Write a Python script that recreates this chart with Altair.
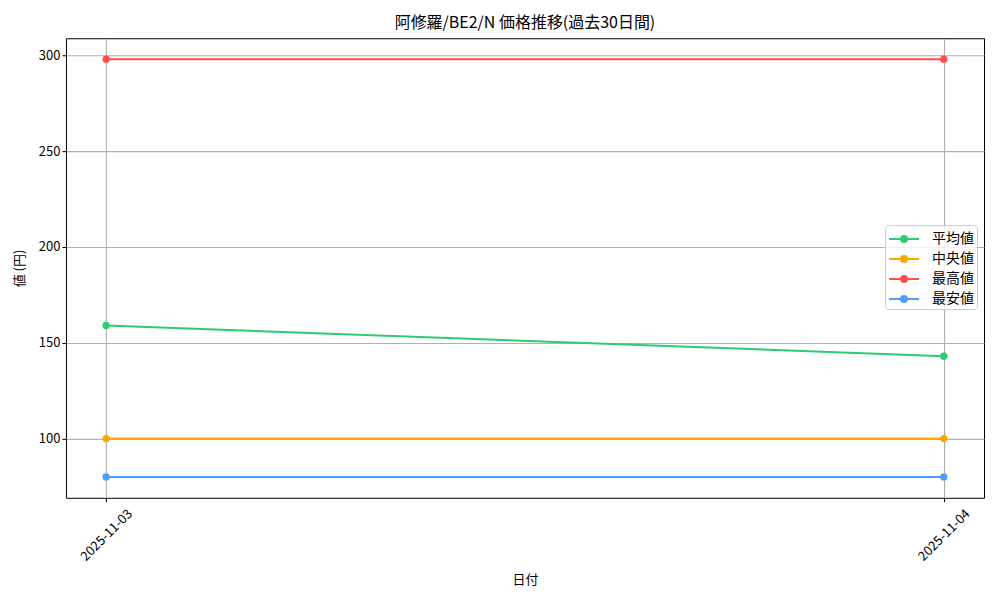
import altair as alt
import pandas as pd

dates = ["2025-11-03", "2025-11-04"]
series = ["平均値", "中央値", "最高値", "最安値"]
avg_values = [159, 143]
median_values = [100, 100]
max_values = [298, 298]
min_values = [80, 80]
colors = ["#2ecc71", "#ffa500", "#ff4d4d", "#4d9fff"]
y_ticks = [100, 150, 200, 250, 300]

rows = []
for name, vals in zip(series, [avg_values, median_values, max_values, min_values]):
    for d, v in zip(dates, vals):
        rows.append({"date": d, "series": name, "value": v})
df = pd.DataFrame(rows)

FONT = "Noto Sans CJK JP"


def ring(r):
    return f"M-{r},0A{r},{r},0,1,1,{r},0A{r},{r},0,1,1,-{r},0"


# line with a dot, like matplotlib's legend handle (rings stand in for a fill)
legend_symbol = "M-1.5,0H1.5" + "".join(ring(r) for r in [0.1, 0.2, 0.3])

x_enc = alt.X(
    "date:N",
    scale=alt.Scale(type="point", padding=0.048),
    axis=alt.Axis(title="日付", labelAngle=-45, labelAlign="center",
                  labelBaseline="middle", labelPadding=33, titlePadding=10),
)
y_enc = alt.Y(
    "value:Q",
    scale=alt.Scale(domain=[69.1, 308.9], nice=False, zero=False),
    axis=alt.Axis(title="値 (円)", values=y_ticks, titlePadding=12),
)
color_enc = alt.Color(
    "series:N",
    scale=alt.Scale(domain=series, range=colors),
    legend=alt.Legend(
        title=None, orient="none", legendX=820, legendY=187,
        symbolType=legend_symbol, symbolSize=400, symbolStrokeWidth=2,
        symbolOffset=5, rowPadding=2, labelOffset=17, padding=3,
        fillColor="rgba(255,255,255,0.8)", strokeColor="#cccccc",
        cornerRadius=3, labelFontSize=14, labelFont=FONT,
    ),
)

chart = alt.Chart(df).mark_line(
    strokeWidth=2,
    point=alt.OverlayMarkDef(filled=True, size=54, opacity=1),
).encode(
    x=x_enc, y=y_enc, color=color_enc
).properties(
    width=919,
    height=460,
    title=alt.TitleParams("阿修羅/BE2/N 価格推移(過去30日間)", fontSize=16,
                          font=FONT, fontWeight="normal", offset=7),
    autosize=alt.AutoSizeParams(type="none"),
    padding={"left": 58, "top": 30, "right": 8, "bottom": 90},
).configure_axis(
    labelFont=FONT, titleFont=FONT, labelFontSize=13, titleFontSize=13,
    titleFontWeight="normal", labelColor="black", titleColor="black",
    grid=True, gridColor="#b0b0b0", gridWidth=1.1,
    domain=False, tickColor="black", tickSize=4, tickWidth=1,
).configure_view(
    stroke="black", strokeWidth=1,
)

chart.save("out.html", embed_options={"renderer": "svg", "actions": False})
